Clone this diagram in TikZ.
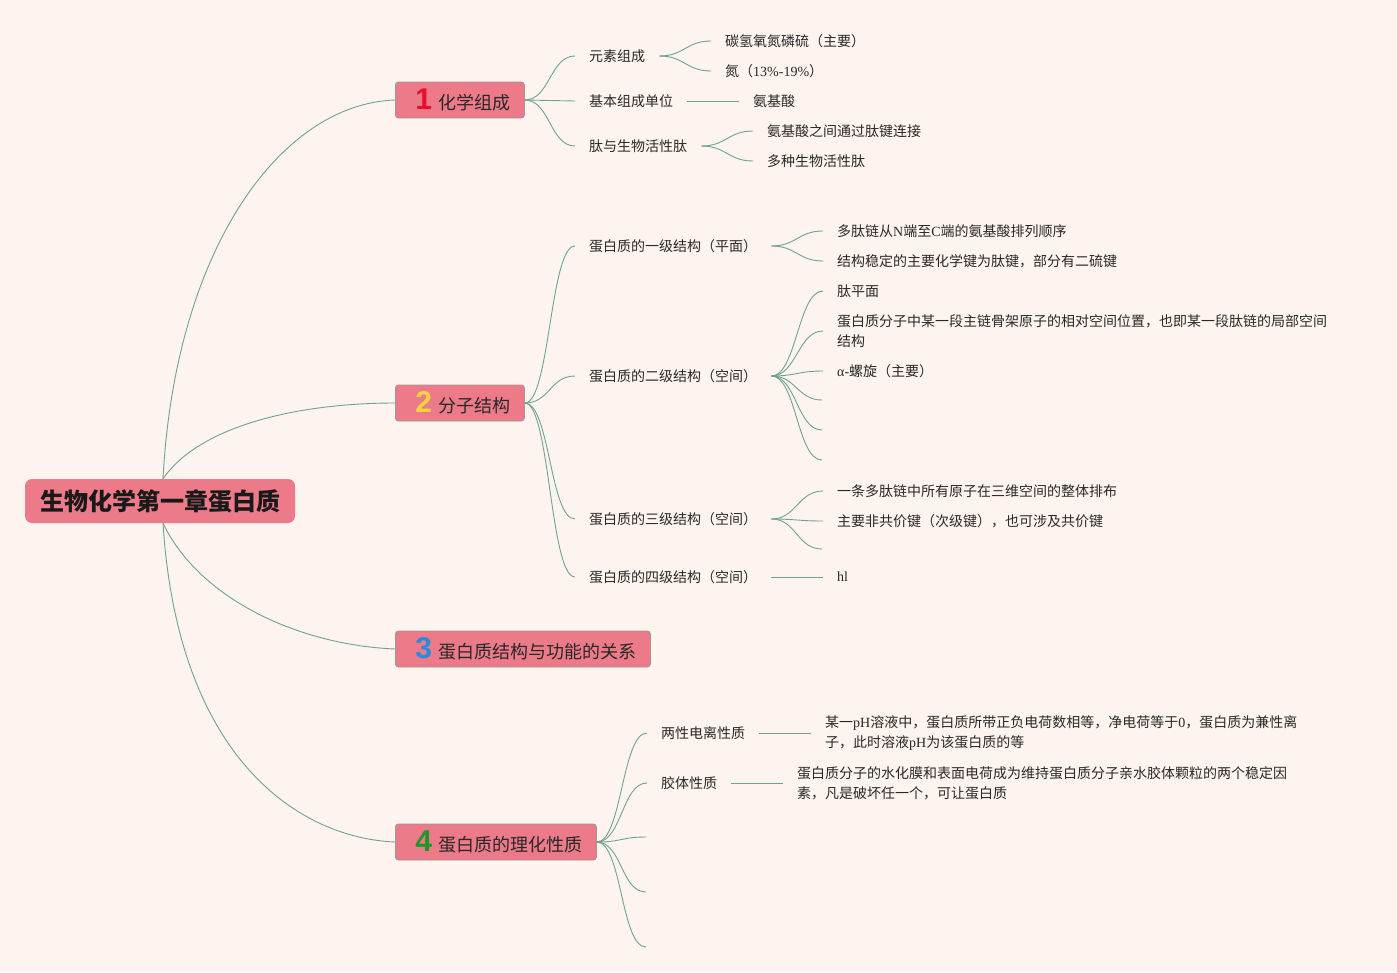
\documentclass[tikz,border=0pt]{standalone}
\usepackage{fontspec}
\setmainfont{Liberation Serif}
\newfontfamily\cjk{Noto Sans CJK SC}
\newfontfamily\latf{Liberation Serif}
\newfontfamily\numf{Liberation Sans}
\newcommand\ltn[1]{{\latf #1}}
\newcommand\numtag[2]{{\numf\bfseries\fontsize{30}{30}\selectfont\textcolor{#1}{#2}}\hspace{6pt}}
\definecolor{bg}{HTML}{FDF4EF}
\definecolor{boxfill}{RGB}{236,122,136}
\definecolor{boxline}{RGB}{160,150,150}
\definecolor{lc}{RGB}{112,163,140}
\definecolor{tc}{RGB}{40,40,40}
\definecolor{n1}{RGB}{226,18,44}
\definecolor{n2}{RGB}{246,212,64}
\definecolor{n3}{RGB}{40,140,222}
\definecolor{n4}{RGB}{30,150,40}
\begin{document}
\begin{tikzpicture}[x=1pt,y=-1pt,
  conn/.style={draw=lc, line width=0.9pt},
  leaf/.style={anchor=west, inner xsep=14pt, inner ysep=2pt, font=\cjk\fontsize{14}{20}\selectfont, text=tc, align=left},
  cat/.style={anchor=west, draw=boxline, line width=0.8pt, fill=boxfill, rounded corners=3pt, inner xsep=0pt, inner ysep=0pt, minimum height=36pt, align=left, font=\cjk\fontsize{18}{20}\selectfont, text=tc},
  rootbox/.style={fill=boxfill, rounded corners=7pt, inner sep=0pt, minimum width=270pt, minimum height=44pt, font=\cjk\bfseries\fontsize{24}{26}\selectfont, text=black!90}
]
\fill[bg] (0,0) rectangle (1397,972);
\useasboundingbox (0,0) rectangle (1397,972);

% root and categories
\node[rootbox] (root) at (160,501) {生物化学第一章蛋白质};
\node[cat, text width=129pt] (c1) at (395,100) {\hspace*{20pt}\numtag{n1}{1}化学组成};
\node[cat, text width=129pt] (c2) at (395,403) {\hspace*{20pt}\numtag{n2}{2}分子结构};
\node[cat, text width=255pt] (c3) at (395,649) {\hspace*{20pt}\numtag{n3}{3}蛋白质结构与功能的关系};
\node[cat, text width=201pt] (c4) at (395,842) {\hspace*{20pt}\numtag{n4}{4}蛋白质的理化性质};

\draw[conn] ([xshift=3pt]root.north) .. controls (175,250) and (280,104) .. (c1.west);
\draw[conn] ([xshift=3pt]root.north) .. controls (200,425) and (300,403) .. (c2.west);
\draw[conn] ([xshift=3pt]root.south) .. controls (200,600) and (300,645) .. (c3.west);
\draw[conn] ([xshift=3pt]root.south) .. controls (178,760) and (300,838) .. (c4.west);

% ---- 1 化学组成
\node[leaf] (a1) at (575,56) {元素组成};
\node[leaf] (a2) at (575,101) {基本组成单位};
\node[leaf] (a3) at (575,146) {肽与生物活性肽};
\foreach \t in {a1,a2,a3}
  \draw[conn] (c1.east) .. controls +(25,0) and +(-25,0) .. (\t.west);
\node[leaf] (a11) at (711,41) {碳氢氧氮磷硫（主要）};
\node[leaf] (a12) at (711,71) {氮（\ltn{13\%-19\%}）};
\node[leaf] (a21) at (739,101) {氨基酸};
\node[leaf] (a31) at (753,131) {氨基酸之间通过肽键连接};
\node[leaf] (a32) at (753,161) {多种生物活性肽};
\foreach \t in {a11,a12}
  \draw[conn] (a1.east) .. controls +(25,0) and +(-25,0) .. (\t.west);
\draw[conn] (a2.east) -- (a21.west);
\foreach \t in {a31,a32}
  \draw[conn] (a3.east) .. controls +(25,0) and +(-25,0) .. (\t.west);

% ---- 2 分子结构
\node[leaf] (b1) at (575,246) {蛋白质的一级结构（平面）};
\node[leaf] (b2) at (575,376) {蛋白质的二级结构（空间）};
\node[leaf] (b3) at (575,519) {蛋白质的三级结构（空间）};
\node[leaf] (b4) at (575,577) {蛋白质的四级结构（空间）};
\foreach \t in {b1,b2,b3,b4}
  \draw[conn] (c2.east) .. controls +(25,0) and +(-25,0) .. (\t.west);

\node[leaf] (b11) at (823,231) {多肽链从\ltn{N}端至\ltn{C}端的氨基酸排列顺序};
\node[leaf] (b12) at (823,261) {结构稳定的主要化学键为肽键，部分有二硫键};
\foreach \t in {b11,b12}
  \draw[conn] (b1.east) .. controls +(25,0) and +(-25,0) .. (\t.west);

\node[leaf] (b21) at (823,291) {肽平面};
\node[leaf] (b22) at (823,331) {蛋白质分子中某一段主链骨架原子的相对空间位置，也即某一段肽链的局部空间\\结构};
\node[leaf] (b23) at (823,371) {\ltn{α-}螺旋（主要）};
\coordinate (b24) at (822,400);
\coordinate (b25) at (822,430);
\coordinate (b26) at (822,460);
\foreach \t in {b21,b22,b23}
  \draw[conn] (b2.east) .. controls +(25,0) and +(-25,0) .. (\t.west);
\foreach \t in {b24,b25,b26}
  \draw[conn] (b2.east) .. controls +(25,0) and +(-25,0) .. (\t);

\node[leaf] (b31) at (823,491) {一条多肽链中所有原子在三维空间的整体排布};
\node[leaf] (b32) at (823,521) {主要非共价键（次级键），也可涉及共价键};
\coordinate (b33) at (822,549);
\foreach \t in {b31,b32}
  \draw[conn] (b3.east) .. controls +(25,0) and +(-25,0) .. (\t.west);
\draw[conn] (b3.east) .. controls +(25,0) and +(-25,0) .. (b33);

\node[leaf] (b41) at (823,577) {\ltn{hl}};
\draw[conn] (b4.east) -- (b41.west);

% ---- 4 理化性质
\node[leaf] (d1) at (647,733) {两性电离性质};
\node[leaf] (d2) at (647,783) {胶体性质};
\coordinate (d3) at (646,837);
\coordinate (d4) at (646,892);
\coordinate (d5) at (646,947);
\foreach \t in {d1,d2}
  \draw[conn] (c4.east) .. controls +(25,0) and +(-25,0) .. (\t.west);
\foreach \t in {d3,d4,d5}
  \draw[conn] (c4.east) .. controls +(25,0) and +(-25,0) .. (\t);

\node[leaf] (d11) at (811,733) {某一\ltn{pH}溶液中，蛋白质所带正负电荷数相等，净电荷等于\ltn{0}，蛋白质为兼性离\\子，此时溶液\ltn{pH}为该蛋白质的等};
\node[leaf] (d21) at (783,783) {蛋白质分子的水化膜和表面电荷成为维持蛋白质分子亲水胶体颗粒的两个稳定因\\素，凡是破坏任一个，可让蛋白质};
\draw[conn] (d1.east) -- (d11.west);
\draw[conn] (d2.east) -- (d21.west);
\end{tikzpicture}
\end{document}
